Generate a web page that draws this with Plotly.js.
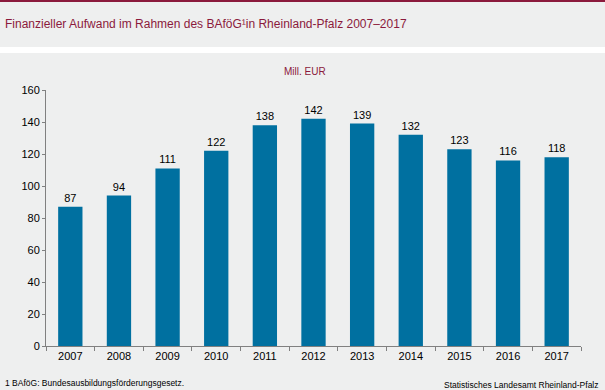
<!DOCTYPE html>
<html><head><meta charset="utf-8">
<script src="https://cdn.plot.ly/plotly-3.0.1.min.js"></script>
<style>html,body{margin:0;padding:0;background:#eeefef;}#chart{width:605px;height:390px;}</style>
</head><body><div id="chart"></div>
<script>
const years = ["2007","2008","2009","2010","2011","2012","2013","2014","2015","2016","2017"];
const values = [87, 94, 111, 122, 138, 142, 139, 132, 123, 116, 118];
const yTicks = [0, 20, 40, 60, 80, 100, 120, 140, 160];

const W = 605, H = 390, L = 46, R = 24, T = 90, B = 44;
const pw = W - L - R, ph = H - T - B;
const px = x => (x - L) / pw;          // page x -> paper
const py = y => (H - B - y) / ph;      // page y -> paper

const font = "Liberation Sans, Arial, sans-serif";
const red = "#8b1a3c";

const trace = {
  type: "bar", x: years, y: values,
  marker: {color: "#0070a0"},
  text: values.map(String), textposition: "outside",
  textfont: {family: font, size: 11, color: "#000"},
  cliponaxis: false, hoverinfo: "skip"
};

const layout = {
  width: W, height: H,
  margin: {l: L, r: R, t: T, b: B, pad: 0},
  paper_bgcolor: "#eeefef", plot_bgcolor: "#eeefef",
  bargap: 0.5, showlegend: false,
  font: {family: font, size: 11, color: "#000"},
  xaxis: {type: "category", showline: true, linecolor: "#808080", linewidth: 1,
    ticks: "outside", tickson: "boundaries", ticklen: 4, tickcolor: "#808080",
    showgrid: false, zeroline: false, tickfont: {family: font, size: 11, color: "#000"}},
  yaxis: {range: [0, 160], tickvals: yTicks, showline: true, linecolor: "#808080", linewidth: 1,
    ticks: "outside", ticklen: 3, tickcolor: "#808080", showgrid: false, zeroline: false,
    tickfont: {family: font, size: 11, color: "#000"}},
  shapes: [
    {type: "rect", xref: "paper", yref: "paper", x0: px(0), x1: px(W), y0: py(2), y1: py(0),
     fillcolor: red, line: {width: 0}, layer: "above"},
    {type: "rect", xref: "paper", yref: "paper", x0: px(0), x1: px(W), y0: py(53), y1: py(47),
     fillcolor: "#ffffff", line: {width: 0}, layer: "above"}
  ],
  annotations: [
    {text: "Finanzieller Aufwand im Rahmen des BAföG¹in Rheinland-Pfalz 2007–2017",
     xref: "paper", yref: "paper", x: px(3), y: py(24), xanchor: "left", yanchor: "middle",
     showarrow: false, font: {family: font, size: 12, color: red}},
    {text: "Mill. EUR", xref: "paper", yref: "paper", x: px(305), y: py(71),
     xanchor: "center", yanchor: "middle", showarrow: false,
     font: {family: font, size: 10, color: red}},
    {text: "1 BAföG: Bundesausbildungsförderungsgesetz.", xref: "paper", yref: "paper",
     x: px(3), y: py(383), xanchor: "left", yanchor: "middle", showarrow: false,
     font: {family: font, size: 8.5, color: "#000"}},
    {text: "Statistisches Landesamt Rheinland-Pfalz", xref: "paper", yref: "paper",
     x: px(601), y: py(385), xanchor: "right", yanchor: "middle", showarrow: false,
     font: {family: font, size: 8.5, color: "#000"}}
  ]
};

Plotly.newPlot("chart", [trace], layout, {displayModeBar: false, staticPlot: true});
</script></body></html>
